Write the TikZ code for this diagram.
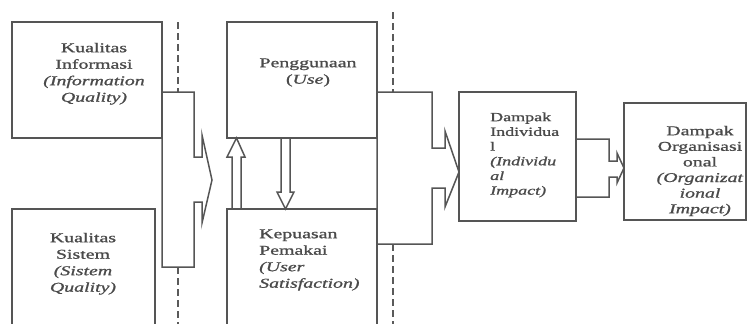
\documentclass[tikz,border=0pt]{standalone}
\usepackage{fontspec}
\usepackage{graphicx}
\setmainfont{Liberation Serif}[FakeBold=0.9]
\definecolor{linegray}{HTML}{555555}
\definecolor{dashgray}{HTML}{5A5A5A}
\definecolor{txtgray}{HTML}{4A4A4A}
\newcommand{\stretchtext}[3]{\scalebox{#1}[1]{\begin{tabular}{@{}#2@{}}#3\end{tabular}}}
\tikzset{
  box/.style={draw=linegray, line width=1.5pt},
  blk/.style={draw=linegray, line width=1.5pt, line join=miter},
  sepline/.style={draw=dashgray, line width=2.4pt, dash pattern=on 7pt off 4pt},
  lbl/.style={inner sep=0pt, text=txtgray, font=\fontsize{13.5}{16.5}\selectfont},
  lblsmall/.style={inner sep=0pt, text=txtgray, font=\fontsize{12.5}{14.7}\selectfont},
  lblorg/.style={inner sep=0pt, text=txtgray, font=\fontsize{13.5}{15.6}\selectfont},
}
\begin{document}
\begin{tikzpicture}[x=1pt, y=-1pt]
\useasboundingbox (0,0) rectangle (750,324);
\fill[white] (0,0) rectangle (750,324);
% separators
\draw[sepline] (178,22) -- (178,92);
\draw[sepline] (178,267) -- (178,330);
\draw[sepline] (393,12) -- (393,92);
\draw[sepline] (393,244) -- (393,330);
% boxes
\draw[box] (12,22) rectangle (162,138);
\draw[box] (12,209) rectangle (155,340);
\draw[box] (227,22) rectangle (377,138);
\draw[box] (227,209) rectangle (377,340);
\draw[box] (459,92) rectangle (576,221);
\draw[box] (624,103) rectangle (746,220);
% block arrows
\draw[blk] (162,92) -- (194,92) -- (194,157) -- (202,157) -- (202,135) -- (212,180)
  -- (202,223) -- (202,202) -- (194,202) -- (194,267) -- (162,267) -- cycle;
\draw[blk] (377,92) -- (432,92) -- (432,148) -- (445,148) -- (445,131) -- (459,172)
  -- (445,207) -- (445,188) -- (432,188) -- (432,244) -- (377,244) -- cycle;
\draw[blk] (576,139) -- (609,139) -- (609,161) -- (617,161) -- (617,153) -- (624,168)
  -- (617,183) -- (617,177) -- (609,177) -- (609,197) -- (576,197);
\draw[blk] (232,209) -- (232,157) -- (227,157) -- (236.5,138) -- (245,157) -- (241,157) -- (241,209);
\draw[blk] (281,138) -- (281,192) -- (277,192) -- (285.5,209) -- (294,192) -- (290,192) -- (290,138);
% texts
\node[lbl, anchor=north] (iq) at (94,40.45)
  {\stretchtext{1.47}{c}{Kualitas\\Informasi\\\textit{(Information}\\\textit{Quality)}}};
\node[lbl, anchor=north] (sq) at (83,230.45)
  {\stretchtext{1.47}{c}{Kualitas\\Sistem\\\textit{(Sistem}\\\textit{Quality)}}};
\node[lbl, anchor=north] (pg) at (308,55.45)
  {\stretchtext{1.47}{c}{Penggunaan\\(\textit{Use})}};
\node[lbl, anchor=north west] (kp) at (259,226.45)
  {\stretchtext{1.47}{l}{Kepuasan\\Pemakai\\\textit{(User}\\\textit{Satisfaction)}}};
\node[lblsmall, anchor=north west] (di) at (490,110.7)
  {\stretchtext{1.44}{l}{Dampak\\Individua\\l\\\textit{(Individu}\\\textit{al}\\\textit{Impact)}}};
\node[lblorg, anchor=north] (dor) at (700,124.1)
  {\stretchtext{1.47}{c}{Dampak\\Organisasi\\onal\\\textit{(Organizat}\\\textit{ional}\\\textit{Impact)}}};
\end{tikzpicture}
\end{document}
